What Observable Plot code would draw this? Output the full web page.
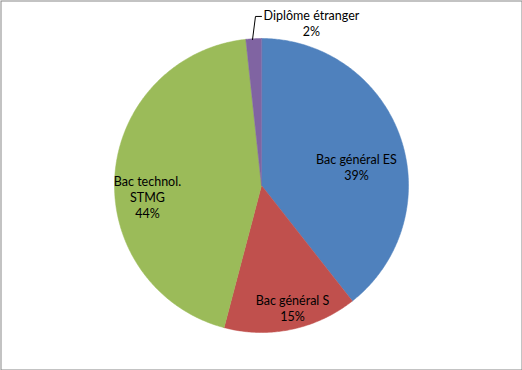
<!DOCTYPE html>
<html>
<head>
<meta charset="utf-8">
<script src="https://cdn.jsdelivr.net/npm/d3@7"></script>
<script src="https://cdn.jsdelivr.net/npm/@observablehq/plot@0.6"></script>
<style>
  html, body { margin: 0; padding: 0; background: #fff; }
  #chart svg { display: block; }
</style>
</head>
<body>
<div id="chart"></div>
<script>
// ---- data ----
const categories = ["Bac général ES", "Bac général S", "Bac technol. STMG", "Diplôme étranger"];
const shares = [39.4, 14.7, 44.2, 1.7];
const labelTexts = ["Bac général ES\n39%", "Bac général S\n15%", "Bac technol.\nSTMG\n44%", "Diplôme étranger\n2%"];
const colors = ["#4F81BD", "#C0504D", "#9BBB59", "#8064A2"];

// ---- layout (unit-circle coordinates, radius = 1) ----
const labelAnchors = [[0.646, 0.129], [0.211, -0.830], [-0.776, -0.075], [0.340, 1.109]];
const leader = [[-0.061, 0.993], [-0.041, 1.150], [0.0, 1.150]];

const W = 522, H = 370, Rpx = 147, cx = 261, cy = 185;

// build slice polygons from the data with d3.pie (clockwise from 12 o'clock)
const pie = d3.pie().sort(null).value(d => d.v).startAngle(0).endAngle(2 * Math.PI);
const arcs = pie(categories.map((c, i) => ({c, v: shares[i]})));
const poly = [];
for (const a of arcs) {
  const c = a.data.c;
  poly.push({c, x: 0, y: 0});
  const n = Math.max(4, Math.ceil((a.endAngle - a.startAngle) / 0.01));
  for (let k = 0; k <= n; k++) {
    const t = a.startAngle + (a.endAngle - a.startAngle) * k / n;
    poly.push({c, x: Math.sin(t), y: Math.cos(t)});
  }
}
const labels = categories.map((c, i) => ({c, t: labelTexts[i], x: labelAnchors[i][0], y: labelAnchors[i][1]}));
const leaderPts = leader.map(([x, y]) => ({x, y}));

const chart = Plot.plot({
  width: W,
  height: H,
  margin: 0,
  style: {fontFamily: "Lato, 'Open Sans', sans-serif", background: "#fff"},
  x: {domain: [-cx / Rpx, (W - cx) / Rpx], axis: null},
  y: {domain: [-(H - cy) / Rpx, cy / Rpx], axis: null},
  color: {domain: categories, range: colors},
  marks: [
    Plot.line(poly, {x: "x", y: "y", z: "c", fill: "c", stroke: "c", strokeWidth: 0.5, curve: "linear-closed"}),
    Plot.line(leaderPts, {x: "x", y: "y", stroke: "#000", strokeWidth: 1}),
    Plot.text(labels, {x: "x", y: "y", text: "t", fontSize: 12.5, lineHeight: 1.28, fill: "#000", textAnchor: "middle", lineAnchor: "middle"}),
    Plot.frame({stroke: "#878787", inset: 0.5})
  ]
});
document.getElementById("chart").appendChild(chart);
</script>
</body>
</html>
